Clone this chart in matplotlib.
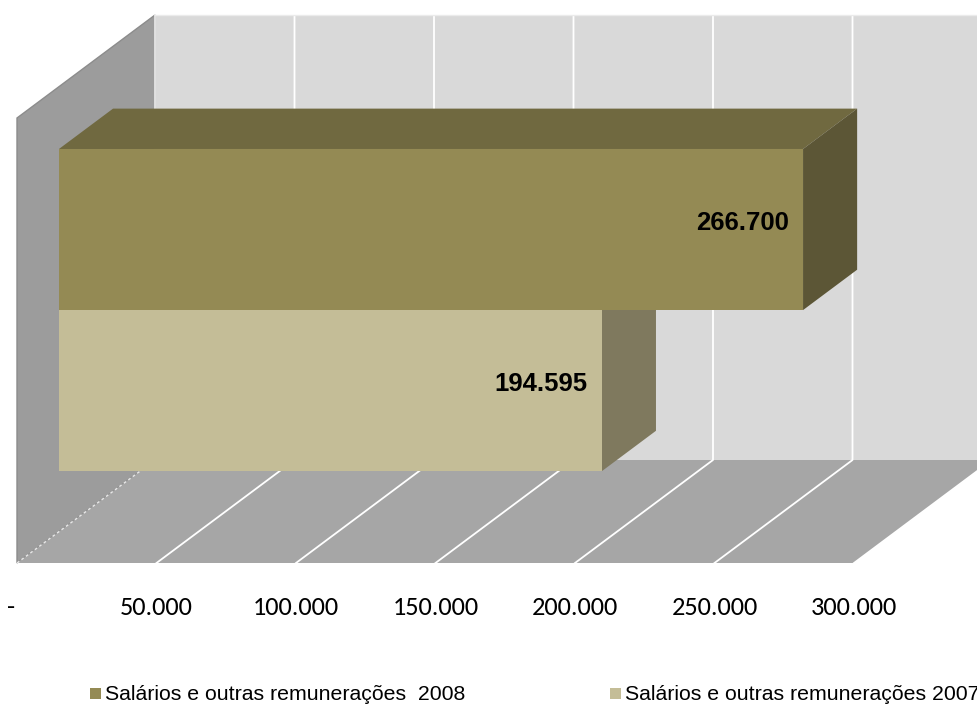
import matplotlib
matplotlib.use("Agg")
import matplotlib.pyplot as plt
from matplotlib import font_manager
from matplotlib.patches import Polygon, Rectangle

# data
series = ["Salários e outras remunerações 2007", "Salários e outras remunerações  2008"]
values = [194595, 266700]
value_labels = ["194.595", "266.700"]
tick_values = [0, 50000, 100000, 150000, 200000, 250000, 300000]
tick_labels = ["-", "50.000", "100.000", "150.000", "200.000", "250.000", "300.000"]

front_colors = ["#C4BD97", "#948A54"]
top_colors = ["#9E9878", "#706940"]
side_colors = ["#7F795E", "#5C5636"]

installed = set(f.name for f in font_manager.fontManager.ttflist)


def pick(*names):
    for n in names:
        if n in installed:
            return n
    return "DejaVu Sans"


tick_font = pick("Carlito", "Open Sans")
legend_font = pick("Liberation Sans", "Arial")
label_font = pick("Liberation Sans", "Arial")

XMAX = 300000
# oblique depth of the 3D box, in data units (full depth front -> back)
DX = 138 / 837 * XMAX
DY = 103 / 445
D0, D1 = 0.304, 0.696  # bar depth range
BAR_H = 0.362
CENTER = 0.498


def proj(v, h, d):
    return (v + d * DX, h + d * DY)


def face(ax, pts, color, z, **kw):
    ax.add_patch(Polygon([proj(*p) for p in pts], closed=True, facecolor=color,
                         edgecolor=kw.pop("ec", "none"), lw=kw.pop("lw", 0),
                         zorder=z, clip_on=False, **kw))


fig = plt.figure(figsize=(9.77, 7.07), dpi=100)
ax = fig.add_axes([17 / 977, 144 / 707, 837 / 977, 445 / 707])
ax.set_xlim(0, XMAX)
ax.set_ylim(0, 1)
ax.axis("off")

# walls and floor
face(ax, [(0, 0, 1), (XMAX, 0, 1), (XMAX, 1, 1), (0, 1, 1)], "#D9D9D9", 1)
face(ax, [(0, 0, 0), (0, 0, 1), (0, 1, 1), (0, 1, 0)], "#9C9C9C", 1,
     ec="#8C8C8C", lw=1)
face(ax, [(0, 0, 0), (XMAX, 0, 0), (XMAX, 0, 1), (0, 0, 1)], "#A6A6A6", 1)

# gridlines
for v in tick_values:
    xs, ys = zip(proj(v, 0, 0), proj(v, 0, 1), proj(v, 1, 1))
    if v == 0:
        ax.plot(xs[:2], ys[:2], color="#E8E8E8", lw=1, ls=(0, (2, 2)), zorder=2, clip_on=False)
        ax.plot(xs[1:], ys[1:], color="#EDEDED", lw=1.2, zorder=2, clip_on=False)
    else:
        ax.plot(xs, ys, color="white", lw=1.3, zorder=2, clip_on=False)
top_l, top_r = proj(0, 1, 1), proj(XMAX, 1, 1)
ax.plot([top_l[0], top_r[0]], [top_l[1], top_r[1]], color="#EBEBEB", lw=1, zorder=2, clip_on=False)

# bars
for i, v in enumerate(values):
    h0 = CENTER - BAR_H + i * BAR_H
    h1 = h0 + BAR_H
    z = 3 + i
    face(ax, [(0, h1, D0), (v, h1, D0), (v, h1, D1), (0, h1, D1)], top_colors[i], z)
    face(ax, [(v, h0, D0), (v, h0, D1), (v, h1, D1), (v, h1, D0)], side_colors[i], z)
    face(ax, [(0, h0, D0), (v, h0, D0), (v, h1, D0), (0, h1, D0)], front_colors[i], z)
    ax.annotate(value_labels[i], xy=proj(v, (h0 + h1) / 2, D0), xytext=(-10, 5),
                textcoords="offset points", ha="right", va="center",
                fontsize=18.5, fontweight="bold", family=label_font, zorder=10)

# value axis labels along the front edge of the floor
for v, lab in zip(tick_values, tick_labels):
    dx = -4 if v == 0 else 0
    ax.annotate(lab, xy=proj(v, 0, 0), xytext=(dx, -32), textcoords="offset points",
                ha="center", va="center", fontsize=19, family=tick_font)

# legend
legend_x = [90 / 977, 610 / 977]
for i in [1, 0]:
    k = 1 - i
    fig.patches.append(Rectangle((legend_x[k], 8 / 707), 11 / 977, 11 / 707,
                                 transform=fig.transFigure, facecolor=front_colors[i],
                                 edgecolor="none"))
    fig.text(legend_x[k] + 15 / 977, 7 / 707, series[i], fontsize=15.3,
             family=legend_font, ha="left", va="baseline")

fig.savefig("out.png", dpi=100)
